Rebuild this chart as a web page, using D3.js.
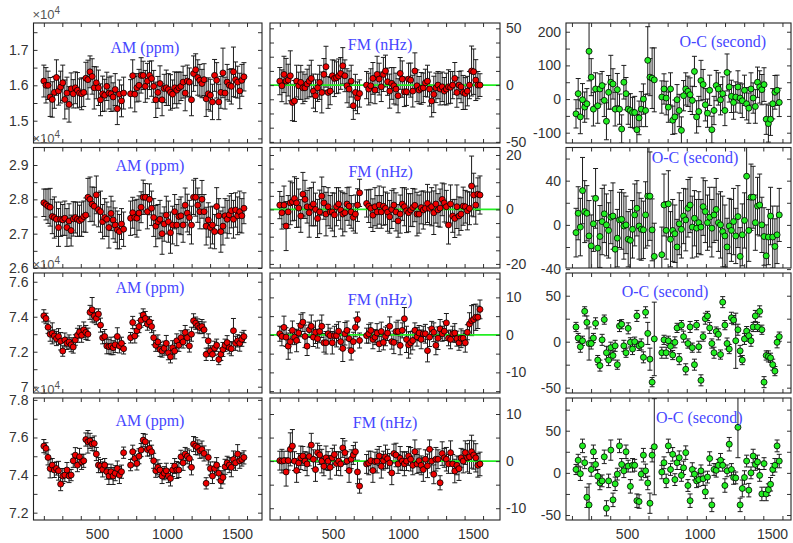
<!DOCTYPE html>
<html>
<head>
<meta charset="utf-8">
<script src="https://cdn.jsdelivr.net/npm/d3@7"></script>
<style>
  body { margin: 0; background: #fff; }
  svg { display: block; }
  .tick text { font-family: "Liberation Sans", Arial, sans-serif; font-size: 14px; fill: #333; }
  .tick line { stroke: #333; }
  .title { font-family: "Liberation Serif", "Times New Roman", serif; font-size: 16px; fill: #4646ff; }
  .expo { font-family: "Liberation Sans", Arial, sans-serif; fill: #555; }
</style>
</head>
<body>
<script>
// time axis (days) for AM / FM columns and for the O-C column
const T = [120,135,150,165,180,195,210,225,240,255,270,285,300,315,330,345,360,375,390,405,420,435,450,465,480,495,510,525,540,555,570,585,600,615,630,645,660,675,690,
  740,755,770,785,800,815,830,845,860,875,890,905,920,935,950,965,980,995,1010,1025,1040,1055,1070,1085,1100,1115,1130,1145,1160,1175,1190,1205,1220,1235,1250,1265,1280,1295,1310,1325,1340,1355,1370,1385,1400,1415,1430,1445,1460,1475,1490,1505,1520,1535,1550];
const TOC = [148,163,178,193,208,223,238,253,268,283,298,313,328,343,358,373,388,403,418,433,448,463,478,493,508,523,538,553,568,583,598,613,628,643,658,673,688,
  740,755,770,785,800,815,830,845,860,875,890,905,920,935,950,965,980,995,1010,1025,1040,1055,1070,1085,1100,1115,1130,1145,1160,1175,1190,1205,1220,1235,1250,1265,1280,1295,1310,1325,1340,1355,1370,1385,1400,1415,1430,1445,1460,1475,1490,1505,1520,1535,1550];

// AM (ppm, x10^4)
const am1 = [1.612,1.600,1.600,1.567,1.560,1.580,1.622,1.584,1.595,1.607,1.560,1.578,1.546,1.590,1.576,1.593,1.586,1.578,1.576,1.580,1.620,1.616,1.638,1.625,1.593,1.607,1.593,1.559,1.576,1.572,1.597,1.578,1.576,1.567,1.588,1.534,1.575,1.556,1.578,
  1.576,1.627,1.575,1.593,1.600,1.628,1.628,1.597,1.612,1.628,1.619,1.597,1.559,1.580,1.605,1.559,1.591,1.593,1.588,1.580,1.575,1.593,1.586,1.593,1.597,1.609,1.578,1.612,1.609,1.559,1.633,1.644,1.622,1.614,1.605,1.616,1.562,1.576,1.572,1.553,1.628,1.614,1.553,1.580,1.635,1.578,1.609,1.600,1.597,1.638,1.616,1.609,1.584,1.614,1.624];
const am1Err = [.045,.050,.040,.055,.050,.045,.050,.040,.045,.050,.055,.045,.050,.045,.040,.045,.050,.040,.045,.040,.045,.055,.045,.050,.060,.045,.050,.045,.050,.045,.040,.045,.050,.040,.045,.045,.040,.045,.045,
  .040,.045,.050,.040,.045,.050,.040,.045,.050,.040,.050,.045,.050,.045,.050,.045,.040,.050,.045,.050,.040,.045,.050,.045,.040,.045,.050,.045,.040,.045,.050,.045,.050,.045,.040,.045,.050,.045,.045,.050,.045,.050,.050,.045,.070,.045,.050,.045,.050,.070,.050,.045,.050,.045,.040];
const am2 = [2.790,2.785,2.780,2.777,2.750,2.747,2.742,2.718,2.742,2.740,2.745,2.718,2.737,2.709,2.743,2.747,2.742,2.738,2.742,2.750,2.754,2.806,2.800,2.786,2.780,2.813,2.770,2.764,2.735,2.747,2.742,2.718,2.759,2.740,2.725,2.711,2.706,2.728,2.713,
  2.745,2.761,2.747,2.745,2.760,2.777,2.806,2.806,2.764,2.800,2.774,2.747,2.722,2.735,2.742,2.700,2.728,2.754,2.735,2.703,2.725,2.764,2.725,2.750,2.752,2.725,2.783,2.760,2.747,2.725,2.806,2.806,2.783,2.764,2.800,2.764,2.722,2.740,2.718,2.725,2.706,2.779,2.752,2.706,2.722,2.752,2.742,2.755,2.767,2.742,2.769,2.752,2.764,2.752,2.774];
const am2Err = [.040,.045,.050,.055,.050,.060,.050,.055,.050,.045,.050,.055,.050,.045,.050,.045,.050,.045,.050,.045,.050,.055,.065,.050,.055,.055,.050,.060,.050,.055,.050,.060,.050,.055,.050,.055,.050,.045,.050,
  .050,.045,.050,.055,.050,.045,.050,.040,.050,.045,.050,.055,.060,.050,.055,.060,.050,.055,.060,.060,.055,.050,.060,.050,.055,.050,.050,.055,.050,.055,.050,.055,.050,.050,.055,.050,.055,.050,.060,.055,.050,.055,.050,.060,.055,.050,.055,.055,.050,.055,.050,.055,.060,.050,.045];
const am3 = [7.405,7.390,7.340,7.300,7.305,7.290,7.275,7.287,7.260,7.204,7.267,7.248,7.256,7.240,7.227,7.267,7.294,7.313,7.294,7.325,7.310,7.300,7.425,7.440,7.405,7.390,7.415,7.352,7.280,7.287,7.233,7.229,7.233,7.223,7.240,7.287,7.233,7.248,7.217,
  7.280,7.367,7.290,7.320,7.344,7.380,7.410,7.390,7.358,7.370,7.344,7.280,7.237,7.256,7.213,7.204,7.220,7.248,7.194,7.171,7.223,7.204,7.262,7.237,7.280,7.256,7.310,7.280,7.233,7.300,7.377,7.363,7.348,7.338,7.344,7.325,7.185,7.262,7.204,7.185,7.220,7.237,7.156,7.185,7.213,7.237,7.252,7.223,7.217,7.320,7.248,7.262,7.248,7.271,7.287];
const am3Err = [.035,.030,.035,.040,.060,.035,.040,.045,.050,.030,.040,.035,.040,.040,.035,.030,.040,.035,.040,.045,.040,.035,.040,.070,.040,.035,.030,.040,.035,.040,.045,.040,.050,.040,.045,.050,.040,.035,.030,
  .030,.035,.040,.030,.035,.040,.035,.040,.035,.030,.035,.040,.035,.040,.040,.035,.040,.045,.040,.035,.040,.045,.040,.035,.040,.035,.040,.045,.035,.040,.040,.035,.040,.035,.040,.045,.035,.040,.030,.035,.040,.035,.030,.035,.040,.035,.040,.035,.040,.070,.040,.035,.045,.040,.035];
const am4 = [7.554,7.542,7.494,7.435,7.453,7.427,7.435,7.423,7.352,7.395,7.400,7.427,7.395,7.400,7.476,7.506,7.453,7.497,7.470,7.476,7.589,7.577,7.582,7.565,7.568,7.512,7.453,7.448,7.430,7.453,7.418,7.395,7.418,7.395,7.410,7.435,7.400,7.418,7.519,
  7.453,7.524,7.488,7.462,7.500,7.533,7.586,7.577,7.536,7.542,7.524,7.476,7.423,7.441,7.427,7.395,7.410,7.423,7.395,7.382,7.427,7.448,7.427,7.427,7.497,7.465,7.512,7.500,7.488,7.441,7.565,7.554,7.547,7.529,7.536,7.515,7.356,7.494,7.435,7.395,7.435,7.453,7.410,7.370,7.388,7.444,7.465,7.453,7.441,7.483,7.465,7.512,7.476,7.483,7.494];
const am4Err = [.035,.030,.040,.050,.035,.040,.035,.050,.035,.040,.035,.040,.035,.030,.035,.040,.035,.045,.040,.035,.035,.060,.040,.035,.040,.035,.040,.035,.040,.035,.040,.045,.040,.045,.040,.040,.045,.035,.030,
  .030,.035,.040,.035,.040,.035,.035,.040,.035,.040,.035,.040,.035,.040,.035,.040,.035,.040,.035,.040,.035,.040,.045,.040,.035,.040,.035,.040,.045,.040,.040,.045,.040,.040,.045,.040,.030,.040,.035,.040,.035,.040,.035,.040,.035,.040,.035,.040,.050,.045,.040,.050,.040,.035,.035];

// FM (nHz)
const fm1 = [3.5,-0.6,9.4,3.5,4.4,8.2,-15.3,-14,3.5,-0.6,2.4,-2.4,-2.4,1,3.5,5.9,-5.3,-9.4,-2.4,2.4,-6.5,9.4,16.2,-6.5,-5.3,8.2,5.9,6.5,8,10.3,17,8.2,-0.6,-3.5,3.5,-18.2,-6.5,-11.2,-7.4,
  0,-3.5,-0.6,5.9,-4.4,9.4,5.3,-1.5,9.4,12.4,3,-5.3,1.5,-0.6,-3.5,-9.4,10.3,5.3,-5.9,-5.9,5.3,4.4,-5.3,12.4,-0.6,-4.4,-2.9,-2.4,2,3.5,-3.5,-14,-8.2,-2.4,0,-3.5,-1.5,-5.3,-3.5,-1.5,-2,0,5.9,-6.5,0,-1.5,-6.5,-7.4,-5.3,0,12.4,11.8,4.4,0,0];
const fm1Err = [12,14,16,20,14,22,16,18,14,12,15,14,12,13,14,16,15,14,12,15,18,14,18,14,12,14,16,14,15,14,16,14,15,16,14,12,16,14,12,
  12,14,15,14,12,16,14,13,15,14,12,15,14,16,14,15,14,16,13,12,14,15,14,16,14,12,14,13,12,14,15,14,16,13,12,14,13,12,14,15,14,12,14,13,12,14,15,14,13,12,22,20,18,12,10];
const fm2 = [1.6,-1.2,1.6,-6.1,-0.9,2.4,2.8,4,2.4,0.5,-2.4,5.6,3.7,1,-1.2,1,2,0,-3.3,-0.9,4.9,2.4,-1.7,1,-0.9,-0.9,-2,1,2,-0.2,-1.7,-1.2,2,1.2,-0.9,-2.9,-1.7,1.6,6.1,
  2.2,1.2,0.4,-2.1,1,-0.9,1.6,-0.9,1.2,0.4,-1,-2.7,0,1.6,-0.9,-4.2,-1.7,2,1,-0.5,-1.2,-0.2,0.7,1.5,-1.7,-1.7,0.7,-0.2,0.4,2.2,0.4,1,-1.2,2,-0.2,0.5,3.7,2.4,1,-5.7,2,-2.4,-3.3,1,-2.4,-1.7,1.2,1,-0.5,0.4,8.6,5.3,1.6,5.6,5.3];
const fm2Err = [5,6,7,9,6,8,7,8,9,7,6,8,7,6,9,7,8,6,7,8,7,6,8,7,6,7,8,7,6,7,8,7,6,7,6,5,7,6,5,
  5,6,7,6,7,6,7,6,7,6,7,6,7,6,7,6,7,6,7,8,7,6,7,6,8,7,6,7,6,7,6,7,8,7,6,7,6,7,6,7,7,6,7,8,7,6,7,6,7,6,11,8,7,6,7];
const fm3 = [0.3,-0.4,2,-0.6,-3,-1.8,1.2,-0.6,-1.5,0.5,2.5,3.4,-0.4,-3,1.4,2.3,-0.6,0.7,-1,0.9,2.3,-2.1,-2.1,0.3,-0.2,-2.1,-0.2,-0.2,1,-1.8,-3.6,0.3,1.2,-1,-4.2,-1.8,2,4.1,-1.5,
  -0.2,0.3,1.2,-1.2,-0.6,0.5,-2.4,0.9,-2,-0.4,0.5,2.3,-1.8,-2,0.9,0.9,-2.8,1.2,4.3,-1.2,-2.7,-2.1,-1.5,1.2,-0.5,0.5,-1.2,0.3,0.3,-4.2,-0.6,1.6,0.7,-2.8,-0.9,1.6,0.3,1,3.2,-0.9,-1.2,0.3,0.5,-1,-2.1,-0.9,-0.9,-2.1,0.7,2.9,3.8,4.1,4.7,4.7,6.8];
const fm3Err = [2,2.5,3,2.5,3.5,3,2.5,2,3,2.5,3,2.5,3,2.5,2,3,2.5,3,2.5,3,3,2.5,3,2.5,2,3,2.5,3,2.5,2,3.5,3,2.5,2.5,2.5,2.5,2.5,2,2,
  2,2.5,2,2.5,2,2.5,2,2.5,2,2.5,2,2.5,2,3,2.5,3,2.5,2,3,3.5,3.5,3,2.5,2,2.5,2,2.5,2,2.5,3,2.5,2,2.5,2.5,3,2.5,2,2.5,2.5,2,2.5,2,2.5,2,2,2.5,2,2.5,2,3,4,4,3.5,3,2.5];
const fm4 = [0.1,0,0.1,-2.3,0.1,2.5,3.2,0,-2,-0.4,0.7,1.1,0,-0.6,1,3.4,0.4,-1.8,1.8,1.3,0,-1.1,0.7,0,-1.3,0.7,1.4,-0.5,0,-0.6,2.8,1.8,0,-2,0.4,1.3,2,-2.3,-5.3,
  -0.6,-0.4,0.1,-2,-0.1,0,1.1,-1.1,0.1,0.9,0.5,-0.4,-2.5,1.6,1.3,-0.6,0.6,0,-0.6,0,1.1,0.4,-0.9,2,-0.6,0.1,-0.9,-1.8,0.4,-1,2.5,0,-2.8,0.4,0.4,-4.6,1.6,0.7,0.4,-0.6,1.8,-0.6,-2.1,-0.9,-1.6,0.7,0,1.8,0.7,0.9,2,1.3,0.7,-0.9,-0.6];
const fm4Err = [2,2.5,2,3,2,3.5,3.5,2,2.5,2,2.5,2,2,2.5,2,2.5,2,2.5,2,2,2.5,2,2.5,2,2.5,2,2,2.5,2,2.5,2,2.5,2,2.5,2,2,2,2.5,1.5,
  2,2.5,2,2.5,2,2.5,2,2.5,2,2.5,2,2,2.5,2,2.5,2,2.5,2,2.5,2,2,2.5,2,2.5,2,2.5,2,2.5,2,2.5,2,2.5,2,2.5,2,1.5,2.5,2,2.5,2,2.5,2,2.5,2,2.5,2,2.5,2.5,3,3.5,3.5,3,3,2.5,2.5];

// O-C (second)
const oc1 = [-44,16,-53,-2,-24,-14,142,65,-30,30,-20,30,40,-4,-66,20,50,45,-30,28,-30,-89,50,16,-30,-34,-40,-40,-91,-56,-30,0,-34,115,65,62,57,
  6,30,3,-24,30,-63,-53,-2,-34,-93,10,30,23,13,-4,82,-53,-37,55,43,-17,-42,26,-91,-34,40,30,-2,16,-34,79,36,8,-10,6,36,3,-5,26,-14,-27,30,3,-22,50,36,28,43,-60,-73,-60,-14,20,26,-10];
const oc1Err = [42,45,50,48,45,45,88,55,50,48,52,45,42,48,55,50,80,45,50,48,45,42,50,48,45,50,45,48,45,50,52,45,48,100,55,90,95,
  48,45,50,45,48,42,50,45,48,40,45,48,45,50,42,45,48,45,60,45,48,42,45,40,42,45,48,45,50,45,55,45,48,50,45,48,45,50,45,48,45,48,45,50,45,48,45,50,45,55,48,45,50,45,42];
const oc2 = [-7,10.5,-2,31,12,10.5,-10,-19,1,24,-21,-10.5,3,10,0,-5,7,8,-22,-12,4.5,5,-1,0,-13,-14,-4,9,15,-1,-4,-4.5,9,26,26,-4.5,-28.5,
  -27,18,-5,19,-13,-5,-8,-20,1,-4,8,4.5,15,18,-2,6,-3,2,-2,16.5,12,2,7,-3,9,14,2,0,-6,-10,-20,-1,-5,3,-10,7.5,-28.5,-9,4,44,-5,25,25,2,17,18,0,-10.5,-28,-11,8,-11,-19.5,-9,9];
const oc2Err = [22,24,26,30,28,25,32,28,25,27,25,28,30,26,28,25,24,30,28,26,25,27,30,26,25,28,26,28,25,30,28,26,30,45,40,28,30,
  25,28,26,30,25,28,26,25,28,26,25,28,26,25,28,25,26,28,25,26,28,25,27,26,25,28,26,30,32,28,26,25,28,30,25,28,26,28,25,95,28,30,28,25,26,28,25,26,28,25,26,28,25,26,24];
const oc3 = [16,4,-5.5,1,33,21,-2,-2,4,20,-20,-26,2,24,-12,-20,-6.5,-15,-4.5,-25,17,19,-4.5,-12,14.5,-0.7,-8,0,28,-4.5,-3,-17,32,9,-19,-44,3,
  -12,2,-12,1,-5,-14.5,-0.7,15,-19,18,5.5,-30,-2,16,-6.5,-25,18,-5.5,-42,5.5,25,28,15,-2,-12,11,8,-14,43,18,-2,-8,26,23.5,1,13,-10,-20,3,11.5,6.5,1,16,28,16,33,13,-44,-15,-16,-17.5,-25,-32,-0.7,5.5];
const oc3Err = [5,5,6,5,5,7,18,6,5,6,5,6,6,5,7,6,6,5,6,5,6,5,6,5,6,5,6,5,6,5,6,6,6,12,12,5,40,
  6,5,6,5,6,5,6,5,6,5,6,6,5,6,5,6,5,6,6,5,6,5,6,5,6,5,6,5,6,5,6,5,6,5,30,6,6,5,6,5,6,6,5,6,5,6,5,6,5,6,5,6,5,6,5];
const oc4 = [4,15,-1,32,12,-29,-38,4,25,10,-4,-12,-9.5,19,-42,-9.5,27,-32,-13,-1.5,32,10,2.4,25,8,-16,9,9,-33,-34,-1.5,21,2.4,-12,-36,21,31,
  1,12,-9.5,32,4,22,-8,12,18,-3,6,24,-15,-33,4,-1.5,-9.5,-8,2.4,-7,-22.5,-5,17,-38,4,3,9,15,9,-15,2.4,34,4,-5.5,-6,54,-38,-18.5,-5.5,14,-20.5,0,20,10,13,-3,-25,11,-25,-20,-13.5,4,9,32,14];
const oc4Err = [6,7,8,8,7,12,25,8,8,7,8,8,7,8,9,8,12,8,8,7,8,7,8,8,7,8,8,7,8,8,7,8,8,8,12,8,57,
  8,7,8,8,7,8,7,8,8,7,8,8,7,8,8,7,8,8,7,8,8,7,8,8,7,8,7,8,7,8,7,8,7,8,7,36,8,10,8,7,8,7,8,7,8,7,8,7,8,7,8,7,8,7,8];

// axis ranges and ticks
const amDom = [[1.437,1.776],[2.6,2.951],[6.964,7.65],[7.161,7.81]];
const fmDom = [[-51,54.7],[-21.5,22.75],[-15.5,16.5],[-12.5,13.4]];
const ocDom = [[-130.6,226],[-39,70],[-55.8,74.7],[-55.9,88.8]];
const amLabels = [[1.5,1.6,1.7],[2.6,2.7,2.8,2.9],[7,7.2,7.4,7.6],[7.2,7.4,7.6,7.8]];
const fmLabels = [[-50,0,50],[-20,0,20],[-10,0,10],[-10,0,10]];
const ocLabels = [[-100,0,100,200],[-40,0,40],[-50,0,50],[-50,0,50]];
const amMinor = [[1.45,1.5,1.55,1.6,1.65,1.7,1.75],[2.6,2.65,2.7,2.75,2.8,2.85,2.9],[7,7.1,7.2,7.3,7.4,7.5,7.6],[7.2,7.3,7.4,7.5,7.6,7.7,7.8]];
const fmMinor = [[-50,-37.5,-25,-12.5,0,12.5,25,37.5,50],[-20,-15,-10,-5,0,5,10,15,20],[-15,-10,-5,0,5,10,15],[-10,-5,0,5,10]];
const ocMinor = [[-100,-50,0,50,100,150,200],[-40,-20,0,20,40,60],[-50,-25,0,25,50],[-50,-25,0,25,50,75]];
const xLabels = [500,1000,1500];
const xMinor = [120,252,384,516,648,780,912,1044,1176,1308,1440,1572];

const titles = ["AM (ppm)","FM (nHz)","O-C (second)"];

// layout
const W = 793, H = 543;
const rowY = [[23,143],[147.5,268],[273,393],[398,520]];
const colX = [[33.5,262],[270,500],[566,791]];
const xDom = [[46,1679],[50,1693],[79,1631]];
const titlePos = [
  [[145,52.7],[380,50],[722.7,46.7]],
  [[150,170.7],[380.7,176.7],[695,162.7]],
  [[150,293.3],[380,305],[665,296.7]],
  [[150,426],[385,428.3],[699.3,423.3]]
];

const svg = d3.select("body").append("svg").attr("width", W).attr("height", H);
svg.append("rect").attr("width", W).attr("height", H).attr("fill", "#fff");

const series = [
  [[am1,am1Err],[fm1,fm1Err],[oc1,oc1Err]],
  [[am2,am2Err],[fm2,fm2Err],[oc2,oc2Err]],
  [[am3,am3Err],[fm3,fm3Err],[oc3,oc3Err]],
  [[am4,am4Err],[fm4,fm4Err],[oc4,oc4Err]]
];

const fmtY = d => String(+d.toFixed(2));

function drawPanel(r, c) {
  const [x0, x1] = colX[c], [y0, y1] = rowY[r];
  const dom = [amDom, fmDom, ocDom][c][r];
  const labels = [amLabels, fmLabels, ocLabels][c][r];
  const minor = [amMinor, fmMinor, ocMinor][c][r];
  const times = c === 2 ? TOC : T;
  const [vals, errs] = series[r][c];

  const x = d3.scaleLinear().domain(xDom[c]).range([x0, x1]);
  const y = d3.scaleLinear().domain(dom).range([y1, y0]);

  const clipId = "clip" + r + c;
  svg.append("clipPath").attr("id", clipId)
    .append("rect").attr("x", x0).attr("y", y0).attr("width", x1 - x0).attr("height", y1 - y0);

  const g = svg.append("g").attr("clip-path", `url(#${clipId})`);
  const data = times.map((t, i) => ({t: t, v: vals[i], e: errs[i]}));

  const eb = g.append("g").attr("stroke", "#1c1c1c").attr("stroke-width", 1);
  eb.selectAll(".bar").data(data).join("line").attr("class", "bar")
    .attr("x1", d => x(d.t)).attr("x2", d => x(d.t))
    .attr("y1", d => y(d.v - d.e)).attr("y2", d => y(d.v + d.e));
  eb.selectAll(".capt").data(data).join("line").attr("class", "capt")
    .attr("x1", d => x(d.t) - 2.5).attr("x2", d => x(d.t) + 2.5)
    .attr("y1", d => y(d.v + d.e)).attr("y2", d => y(d.v + d.e));
  eb.selectAll(".capb").data(data).join("line").attr("class", "capb")
    .attr("x1", d => x(d.t) - 2.5).attr("x2", d => x(d.t) + 2.5)
    .attr("y1", d => y(d.v - d.e)).attr("y2", d => y(d.v - d.e));

  if (c === 1) {
    g.append("line").attr("x1", x0).attr("x2", x1).attr("y1", y(0)).attr("y2", y(0))
      .attr("stroke", "#22ee22").attr("stroke-width", 1.8);
  }

  g.selectAll("circle").data(data).join("circle")
    .attr("cx", d => x(d.t)).attr("cy", d => y(d.v)).attr("r", 3)
    .attr("fill", c === 2 ? "#22ee22" : "#ee0000")
    .attr("stroke", "#000").attr("stroke-width", 0.8);

  // axes, ticks pointing inward
  const ax = svg.append("g");
  const labelLeft = c !== 1;
  ax.append("g").attr("transform", `translate(${x0},0)`)
    .call(d3.axisLeft(y).tickValues(minor).tickSize(-4).tickPadding(5)
      .tickFormat(d => labelLeft && labels.includes(d) ? fmtY(d) : ""));
  ax.append("g").attr("transform", `translate(${x1},0)`)
    .call(d3.axisRight(y).tickValues(minor).tickSize(-4).tickPadding(6)
      .tickFormat(d => !labelLeft && labels.includes(d) ? fmtY(d) : ""));
  ax.append("g").attr("transform", `translate(0,${y1})`)
    .call(d3.axisBottom(x).tickValues(xMinor).tickSize(-4).tickFormat(""));
  ax.append("g").attr("transform", `translate(0,${y0})`)
    .call(d3.axisTop(x).tickValues(xMinor).tickSize(-4).tickFormat(""));
  if (r === 3) {
    ax.append("g").attr("transform", `translate(0,${y1})`)
      .call(d3.axisBottom(x).tickValues(xLabels).tickSize(0).tickPadding(9).tickFormat(d3.format("d")));
  }
  ax.selectAll(".domain").remove();

  svg.append("rect").attr("x", x0).attr("y", y0).attr("width", x1 - x0).attr("height", y1 - y0)
    .attr("fill", "none").attr("stroke", "#222").attr("stroke-width", 1.1);

  // multiplier for the AM column
  if (c === 0) {
    const ex = svg.append("text").attr("class", "expo").attr("x", x0 - 1).attr("y", y0 - 4.5);
    ex.append("tspan").attr("font-size", 13).text("\u00d710");
    ex.append("tspan").attr("font-size", 10).attr("dy", -5).text("4");
  }

  const [tx, ty] = titlePos[r][c];
  svg.append("text").attr("class", "title").attr("x", tx).attr("y", ty)
    .attr("text-anchor", "middle").text(titles[c]);
}

for (let r = 0; r < 4; r++) {
  for (let c = 0; c < 3; c++) drawPanel(r, c);
}
</script>
</body>
</html>
